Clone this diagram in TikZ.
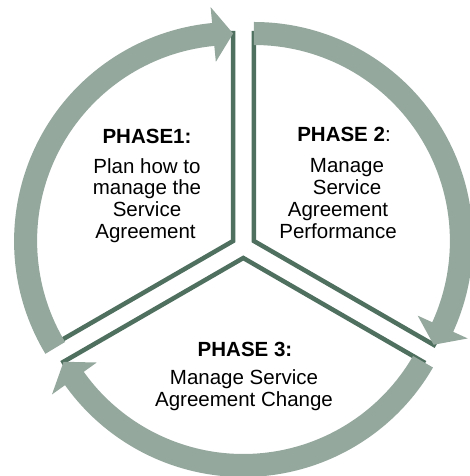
\documentclass[tikz,border=0pt]{standalone}
\usepackage{fontspec}
\setmainfont{Liberation Sans}
\definecolor{arrowfill}{RGB}{149,168,158}
\definecolor{edgedark}{RGB}{79,111,95}
\newcommand{\phasearrow}[3]{%
  \fill[arrowfill, shift={(#1)}] (#2:219pt) arc[start angle=#2, end angle=#3+5.5, radius=219pt]
    -- (#3+5.5:235pt) -- (#3:207.5pt) -- (#3+5.5:180pt) -- (#3+5.5:196pt)
    arc[start angle=#3+5.5, end angle=#2, radius=196pt] -- cycle;}
\tikzset{
  sectoredge/.style={draw=edgedark, line width=4.5pt, miter limit=20},
  txt/.style={anchor=base, inner sep=0pt, font=\fontsize{20.5pt}{22pt}\selectfont},
  hdr/.style={txt, font=\fontsize{20.5pt}{22pt}\selectfont\bfseries}
}
\begin{document}
\begin{tikzpicture}[x=1pt,y=1pt]
\useasboundingbox[fill=white] (0,0) rectangle (470,476);
\coordinate (c1) at (233.1,235);
\coordinate (c2) at (253.9,235);
\coordinate (c3) at (243.3,218);
% sector edges
\draw[sectoredge, shift={(c1)}] (90:210pt) -- (0,0) -- (210:210pt);
\draw[sectoredge, shift={(c2)}] (90:210pt) -- (0,0) -- (-30:210pt);
\draw[sectoredge, shift={(c3)}] (210:210pt) -- (0,0) -- (330:210pt);
% arrows
\phasearrow{c1}{211}{90}
\phasearrow{c2}{90}{-30}
\phasearrow{c3}{-30}{-150}
% phase 1 text
\node[hdr] (h1) at (147,332.7) {PHASE1:};
\node[txt] (a1) at (147,302.7) {Plan how to};
\node[txt] (a2) at (147,281) {manage the};
\node[txt] (a3) at (147,259) {Service};
\node[txt] (a4) at (145.5,237) {Agreement};
% phase 2 text
\node[txt] (h2) at (344,334.3) {\textbf{PHASE 2}:};
\node[txt] (b1) at (347,303) {Manage};
\node[txt] (b2) at (347,281) {Service};
\node[txt] (b3) at (338,259) {Agreement};
\node[txt] (b4) at (338,237) {Performance};
% phase 3 text
\node[hdr] (h3) at (245,119.3) {PHASE 3:};
\node[txt] (d1) at (244,91.5) {Manage Service};
\node[txt] (d2) at (244,69.5) {Agreement Change};
\end{tikzpicture}
\end{document}
